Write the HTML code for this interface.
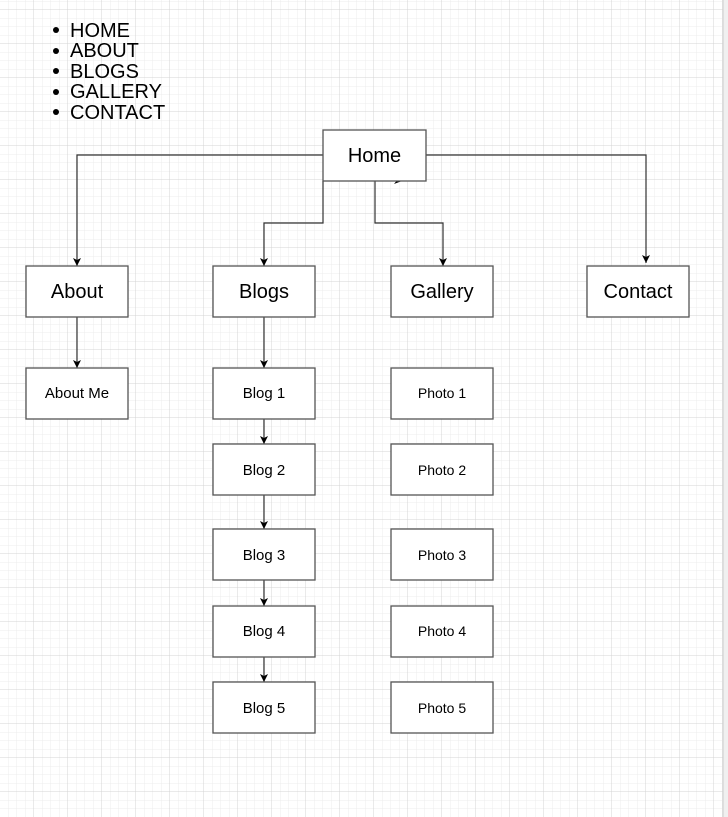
<!DOCTYPE html>
<html><head><style>
body{margin:0;background:#fff;}
svg{display:block}
</style></head><body>
<svg width="728" height="817" xmlns="http://www.w3.org/2000/svg" font-family="Liberation Sans, Arial, sans-serif">
<defs>
<pattern id="minor" width="8.5" height="8.5" patternUnits="userSpaceOnUse" x="0" y="10"><path d="M8.5 0V8.5H0" fill="none" stroke="#ececec" stroke-width="1"/></pattern>
<pattern id="major" width="34" height="34" patternUnits="userSpaceOnUse" x="0" y="10"><path d="M34 0V34H0" fill="none" stroke="#d4d4d4" stroke-width="1"/></pattern>
<marker id="a" markerWidth="8" markerHeight="8" refX="8" refY="4" orient="auto" markerUnits="userSpaceOnUse" viewBox="0 0 8 8"><path d="M0 0L8 4L0 8L2 4Z" fill="#000"/></marker>
</defs>
<rect width="728" height="817" fill="url(#minor)"/>
<rect width="728" height="817" fill="url(#major)"/>
<rect x="723" y="0" width="5" height="817" fill="#f0f0f0"/>
<line x1="723" y1="0" x2="723" y2="817" stroke="#ccc"/>
<g font-size="20" fill="#000">
<circle cx="56" cy="30" r="3"/><text x="70" y="37">HOME</text>
<circle cx="56" cy="51" r="3"/><text x="70" y="57">ABOUT</text>
<circle cx="56" cy="71" r="3"/><text x="70" y="78">BLOGS</text>
<circle cx="56" cy="92" r="3"/><text x="70" y="98">GALLERY</text>
<circle cx="56" cy="112" r="3"/><text x="70" y="119">CONTACT</text>
</g>
<g fill="none" stroke="#333" stroke-width="1.2">
<path d="M323 155H77V266" marker-end="url(#a)"/>
<path d="M426 155H646V263" marker-end="url(#a)"/>
<path d="M323 181V223H264V266" marker-end="url(#a)"/>
<path d="M375 181V223H443V266" marker-end="url(#a)"/>
<path d="M77 317V368" marker-end="url(#a)"/>
<path d="M264 317V368" marker-end="url(#a)"/>
<path d="M264 419V444" marker-end="url(#a)"/>
<path d="M264 495V529" marker-end="url(#a)"/>
<path d="M264 580V606" marker-end="url(#a)"/>
<path d="M264 657V682" marker-end="url(#a)"/>
</g>
<path d="M394 184L402 181L398 179Z" fill="#000"/>
<g fill="#fff" stroke="#555" stroke-width="1.3">
<rect x="323" y="130" width="103" height="51"/>
<rect x="26" y="266" width="102" height="51"/>
<rect x="213" y="266" width="102" height="51"/>
<rect x="391" y="266" width="102" height="51"/>
<rect x="587" y="266" width="102" height="51"/>
<rect x="26" y="368" width="102" height="51"/>
<rect x="213" y="368" width="102" height="51"/><rect x="391" y="368" width="102" height="51"/>
<rect x="213" y="444" width="102" height="51"/><rect x="391" y="444" width="102" height="51"/>
<rect x="213" y="529" width="102" height="51"/><rect x="391" y="529" width="102" height="51"/>
<rect x="213" y="606" width="102" height="51"/><rect x="391" y="606" width="102" height="51"/>
<rect x="213" y="682" width="102" height="51"/><rect x="391" y="682" width="102" height="51"/>
</g>
<g text-anchor="middle" fill="#000" font-size="20">
<text x="374.5" y="162">Home</text>
<text x="77" y="298">About</text>
<text x="264" y="298">Blogs</text>
<text x="442" y="298">Gallery</text>
<text x="638" y="298">Contact</text>
</g>
<g text-anchor="middle" fill="#000" font-size="15">
<text x="77" y="398">About Me</text>
<text x="264" y="398">Blog 1</text><text x="264" y="475">Blog 2</text><text x="264" y="560">Blog 3</text><text x="264" y="636">Blog 4</text><text x="264" y="713">Blog 5</text>
</g>
<g text-anchor="middle" fill="#000" font-size="14">
<text x="442" y="398">Photo 1</text><text x="442" y="475">Photo 2</text><text x="442" y="560">Photo 3</text><text x="442" y="636">Photo 4</text><text x="442" y="713">Photo 5</text>
</g>
</svg>
</body></html>
